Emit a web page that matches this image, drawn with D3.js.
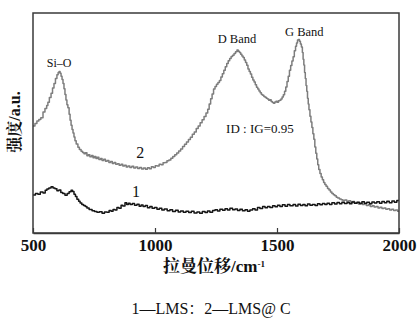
<!DOCTYPE html>
<html>
<head>
<meta charset="utf-8">
<script src="https://cdn.jsdelivr.net/npm/d3@7"></script>
<style>
  html, body { margin: 0; padding: 0; background: #fff; }
  svg { display: block; }
</style>
</head>
<body>
<div class="chart-container"></div>
<script>
const totalWidth = 420;
const totalHeight = 320;
const margin = {top: 13, right: 21, bottom: 87, left: 33};
const chartWidth = totalWidth - margin.left - margin.right;
const chartHeight = totalHeight - margin.top - margin.bottom;

const xTicks = [500, 1000, 1500, 2000];

// curve 1 - LMS
const shift1 = [500,510,520,530,541,550,557,565,574,582,590,598,606,614,622,631,640,648,656,662,668,674,680,687,693,700,707,714,721,730,742,752,762,772,783,793,803,812,820,828,836,844,852,861,868,877,884,891,898,907,916,926,935,943,951,960,969,979,988,998,1008,1018,1028,1038,1050,1061,1072,1084,1095,1105,1116,1127,1138,1149,1160,1172,1183,1194,1205,1215,1225,1236,1246,1256,1266,1277,1287,1297,1307,1318,1328,1338,1348,1358,1369,1379,1389,1400,1410,1420,1430,1441,1451,1461,1471,1482,1492,1502,1512,1522,1533,1543,1553,1566,1576,1586,1596,1606,1615,1625,1635,1645,1656,1666,1676,1686,1696,1705,1715,1725,1736,1746,1756,1766,1776,1787,1797,1807,1817,1828,1838,1848,1858,1868,1879,1889,1899,1909,1920,1930,1940,1950,1960,1971,1981,1991,2000];
const intensity1 = [17.3,18.0,17.6,18.6,18.2,19.4,20.0,20.4,21.0,20.5,20.1,19.2,19.6,18.4,18.0,17.2,17.9,18.8,19.4,18.9,17.6,16.6,15.3,14.4,13.6,13.0,12.5,12.0,11.4,10.7,10.1,9.8,9.4,9.7,9.0,9.6,9.4,10.2,9.9,10.7,10.5,11.6,11.2,12.6,12.3,13.8,13.0,13.5,12.9,13.4,12.6,13.1,12.2,12.7,12.1,12.5,11.5,12.0,11.2,11.6,10.8,11.3,10.4,10.9,10.1,10.6,9.8,10.3,9.5,10.0,9.4,9.9,9.3,9.9,9.1,9.6,9.0,9.8,9.3,10.0,9.4,10.2,10.6,10.0,10.8,10.3,11.0,10.5,11.2,10.6,10.9,10.2,10.8,10.1,10.6,9.9,10.4,11.0,10.5,11.6,11.1,12.0,11.5,12.1,11.6,12.4,11.9,12.6,12.0,12.8,12.2,13.0,12.4,12.9,12.3,13.1,12.5,13.0,12.4,13.2,12.6,13.0,12.5,13.3,12.8,13.4,12.9,13.5,13.0,13.8,13.2,13.9,13.3,14.0,13.4,13.9,13.3,14.1,13.5,14.0,13.4,14.2,13.5,14.0,13.3,14.1,13.6,14.2,13.5,14.3,13.7,14.4,13.8,14.6,14.0,14.8,14.4];

// curve 2 - LMS@C
const shift2 = [500,508,516,524,532,541,549,556,561,567,574,580,586,592,598,603,607,611,615,619,623,627,631,635,639,643,648,652,656,660,664,668,672,677,684,690,697,703,709,715,721,727,733,740,746,752,758,764,770,777,783,790,797,804,811,818,825,832,839,846,853,861,868,875,882,889,897,905,913,921,929,937,945,953,961,969,977,985,993,1001,1009,1017,1025,1033,1041,1049,1057,1065,1073,1081,1089,1097,1105,1113,1121,1129,1137,1145,1153,1161,1169,1177,1185,1193,1201,1209,1216,1222,1228,1234,1240,1246,1252,1258,1264,1270,1276,1282,1288,1294,1300,1306,1312,1318,1324,1330,1336,1341,1346,1351,1356,1361,1366,1371,1376,1381,1386,1391,1396,1401,1406,1411,1416,1421,1426,1431,1436,1441,1446,1451,1456,1461,1466,1471,1476,1481,1486,1491,1496,1501,1506,1511,1516,1521,1526,1531,1536,1541,1546,1551,1556,1561,1566,1571,1576,1580,1584,1588,1592,1596,1600,1604,1607,1610,1613,1616,1619,1622,1625,1628,1631,1635,1639,1643,1647,1651,1655,1659,1663,1667,1671,1676,1681,1686,1691,1696,1701,1707,1713,1719,1725,1731,1737,1743,1749,1756,1763,1770,1778,1786,1794,1802,1810,1818,1826,1834,1842,1850,1858,1866,1874,1882,1890,1898,1906,1914,1922,1930,1938,1946,1954,1962,1970,1978,1986,1994,2000];
const intensity2 = [48.6,49.8,50.9,51.6,52.4,55.0,56.6,58.0,59.4,61.6,63.5,65.9,68.0,70.2,71.9,73.0,73.4,72.6,71.2,69.8,67.9,65.6,63.0,60.4,58.3,56.9,54.0,51.2,49.0,47.1,45.5,43.6,41.9,40.5,39.0,37.9,37.2,36.6,36.0,36.5,35.1,35.6,34.7,35.2,34.2,34.8,33.9,34.4,33.4,33.9,33.0,33.5,32.6,33.0,32.1,32.5,31.6,32.0,31.2,31.5,30.8,31.2,30.4,30.8,30.0,30.5,29.8,30.3,29.6,30.0,29.3,29.8,29.1,29.6,29.0,29.7,29.2,30.1,29.8,30.6,30.4,31.2,31.0,31.9,32.0,32.8,33.2,34.0,34.8,35.6,36.4,37.3,38.2,39.3,40.3,41.4,42.5,43.5,44.9,45.9,47.5,48.6,50.1,51.5,53.0,54.6,56.2,58.6,61.0,63.2,65.4,66.6,67.6,68.4,69.3,70.9,72.4,74.0,75.6,77.0,78.3,79.3,80.2,80.8,81.6,82.4,83.2,82.6,82.0,81.2,80.5,79.8,78.6,77.5,76.2,74.6,73.4,72.3,70.8,69.6,68.6,67.4,66.3,65.4,64.6,63.8,63.0,62.6,62.0,61.7,61.2,60.9,60.3,60.6,59.8,59.3,59.0,59.6,59.9,59.4,60.1,60.3,60.9,61.8,62.8,64.4,66.4,68.9,71.2,74.0,76.1,78.2,80.1,82.8,84.9,86.4,87.7,88.0,87.2,85.9,84.5,82.1,79.0,76.4,73.0,70.2,67.1,64.4,61.3,58.6,56.0,53.1,50.5,48.0,45.1,42.6,39.1,36.2,33.6,31.0,28.9,27.0,25.4,24.2,23.0,22.0,21.3,20.2,19.5,18.6,17.9,17.4,16.9,16.3,15.9,15.4,15.1,14.8,15.0,14.4,14.7,14.0,14.3,13.6,13.9,13.2,13.5,12.9,13.2,12.5,12.8,12.1,12.4,11.8,12.0,11.4,11.7,11.1,11.4,10.8,11.0,10.5,10.8,10.2,10.5,9.9,10.2];

const svg = d3.select('.chart-container')
    .append('svg')
    .attr('width', totalWidth)
    .attr('height', totalHeight);

const chart = svg.append('g').attr('transform', `translate(${margin.left},${margin.top})`);

const scaleX = d3.scaleLinear().domain([500, 2000]).range([0, chartWidth]);
const scaleY = d3.scaleLinear().domain([0, 100]).range([chartHeight, 0]);

const serif = '"Liberation Serif", "Noto Serif CJK SC", "Noto Sans CJK SC", serif';

svg.append('defs').append('clipPath').attr('id', 'plot')
    .append('rect').attr('width', chartWidth).attr('height', chartHeight);

const line = d3.line()
    .x(d => scaleX(d[0]))
    .y(d => scaleY(d[1]))
    .curve(d3.curveStepAfter);

const series = [
    {pts: d3.zip(shift2, intensity2), color: '#7d7d7d'},
    {pts: d3.zip(shift1, intensity1), color: '#151515'}
];

chart.append('g').attr('clip-path', 'url(#plot)')
    .selectAll('path')
    .data(series)
    .enter()
    .append('path')
    .attr('d', s => line(s.pts))
    .attr('fill', 'none')
    .attr('stroke', s => s.color)
    .attr('stroke-width', 1.5)
    .attr('stroke-linejoin', 'round');

// frame
chart.append('rect')
    .attr('width', chartWidth)
    .attr('height', chartHeight)
    .attr('fill', 'none')
    .attr('stroke', '#3a3a3a')
    .attr('stroke-width', 1.5);

const xAxis = chart.append('g')
    .attr('class', 'horizontal-axis')
    .attr('transform', `translate(0,${chartHeight})`)
    .call(d3.axisBottom(scaleX).tickValues(xTicks).tickFormat(d3.format('d'))
        .tickSizeInner(-5).tickSizeOuter(0).tickPadding(4));
xAxis.select('.domain').attr('stroke', '#3a3a3a').attr('stroke-width', 1.5);
xAxis.selectAll('line').attr('stroke', '#3a3a3a').attr('stroke-width', 1.2);
xAxis.selectAll('text')
    .attr('fill', '#111')
    .style('font-family', serif)
    .style('font-size', '17px')
    .style('font-weight', 'bold')
    .attr('y', 6);

// labels on peaks
const notes = [
    {text: 'Si–O', x: 607, y: 75.5, size: 12},
    {text: 'D Band', x: 1336, y: 86.5, size: 12.5},
    {text: 'G Band', x: 1612, y: 89.5, size: 12.5},
    {text: 'ID : IG=0.95', x: 1430, y: 45.5, size: 13},
    {text: '2', x: 940, y: 34, size: 16},
    {text: '1', x: 922, y: 16.5, size: 16}
];
chart.selectAll('.note')
    .data(notes)
    .enter()
    .append('text')
    .attr('class', 'note')
    .attr('x', d => scaleX(d.x))
    .attr('y', d => scaleY(d.y))
    .attr('text-anchor', 'middle')
    .style('font-family', serif)
    .style('font-size', d => d.size + 'px')
    .attr('fill', '#111')
    .text(d => d.text);

// axis titles
const xTitle = svg.append('text')
    .attr('x', 214)
    .attr('y', 272)
    .attr('text-anchor', 'middle')
    .style('font-family', serif)
    .style('font-size', '17px')
    .style('font-weight', 'bold')
    .attr('fill', '#111');
xTitle.append('tspan').text('拉曼位移/cm');
xTitle.append('tspan').attr('dy', -5).style('font-size', '9px').text('-1');

svg.append('text')
    .attr('transform', `translate(20,122) rotate(-90)`)
    .attr('text-anchor', 'middle')
    .style('font-family', serif)
    .style('font-size', '16px')
    .style('font-weight', 'bold')
    .attr('fill', '#111')
    .text('强度/a.u.');

svg.append('text')
    .attr('x', 211)
    .attr('y', 314)
    .attr('text-anchor', 'middle')
    .style('font-family', serif)
    .style('font-size', '16px')
    .attr('fill', '#111')
    .text('1—LMS：2—LMS@ C');
</script>
</body>
</html>
